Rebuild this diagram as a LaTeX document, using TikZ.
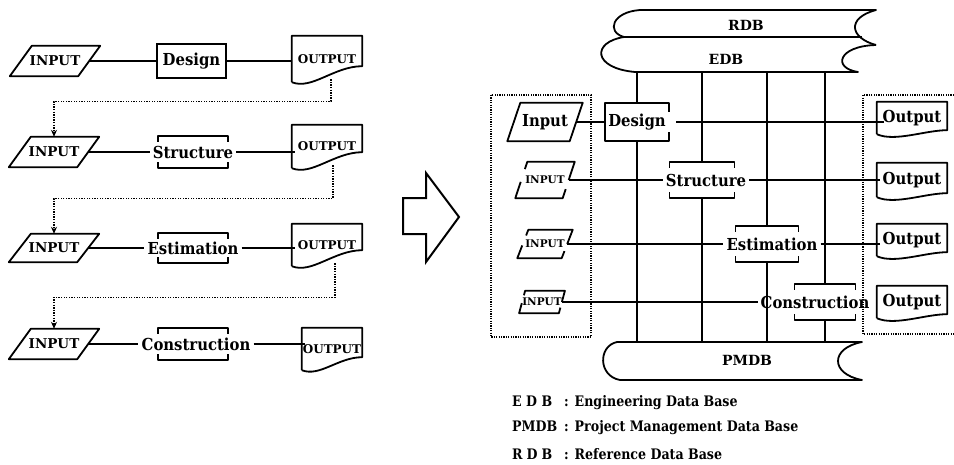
\documentclass[tikz,border=0pt]{standalone}
\usepackage{fontspec}
\setmainfont{DejaVu Serif}
\newfontfamily\labfont{DejaVu Serif}[FakeStretch=0.9]
\newfontfamily\legfont{DejaVu Serif}[FakeStretch=0.87]
\usetikzlibrary{calc,arrows.meta}

\tikzset{
  ln/.style={line width=1.8pt},
  shell/.style={line width=1.8pt, line join=round},
  rectbox/.style={draw, line width=1.8pt, inner sep=0pt},
  txt/.style={inner sep=0pt, font=\labfont\bfseries\fontsize{16.5}{18}\selectfont},
  capL/.style={inner sep=0pt, font=\bfseries\fontsize{13.5}{15}\selectfont},
  capO/.style={inner sep=0pt, font=\bfseries\fontsize{12}{14}\selectfont},
  capS/.style={inner sep=0pt, font=\bfseries\fontsize{10.5}{12}\selectfont},
  dbtxt/.style={inner sep=0pt, font=\bfseries\fontsize{14}{16}\selectfont},
  legend/.style={inner sep=0pt, anchor=base west, font=\legfont\bfseries\fontsize{14.5}{16}\selectfont},
  dotbox/.style={line width=1.3pt, dash pattern=on 1.2pt off 1.2pt},
  dotarrow/.style={line width=1.4pt, dash pattern=on 1.3pt off 1.3pt, -{Stealth[length=7pt,width=6pt]}},
}

% parallelogram round a node
\newcommand\paraIn[2]{%
  \draw[shell] ([xshift=-#2pt]#1.south west) -- ([xshift=#2pt]#1.north west) -- ([xshift=#2pt]#1.north east) -- ([xshift=-#2pt]#1.south east) -- cycle;}
% parallelogram with open sides
\newcommand\gapIn[2]{%
  \coordinate (#1TL) at ([xshift=#2pt]#1.north west);
  \coordinate (#1TR) at ([xshift=#2pt]#1.north east);
  \coordinate (#1BL) at ([xshift=-#2pt]#1.south west);
  \coordinate (#1BR) at ([xshift=-#2pt]#1.south east);
  \draw[shell] ($(#1TL)!0.2!(#1BL)$) -- (#1TL) -- (#1TR) -- ($(#1TR)!0.5!(#1BR)$);
  \draw[shell] ($(#1BL)!0.45!(#1TL)$) -- (#1BL) -- (#1BR) -- ($(#1BR)!0.25!(#1TR)$);}
% document shape: name, rise of right end, ctrl1 x, ctrl2 x, ctrl2 y
\newcommand\docS[5]{%
  \draw[shell] (#1.south west) -- (#1.north west) -- (#1.north east) -- ([yshift=#2pt]#1.south east) .. controls +(-#3,0) and +(#4,#5) .. (#1.south west);}
% brackets above and below: name, half width, x offset
\newcommand\brk[3]{%
  \draw[shell] ($(#1.north)+(#3-#2,6)$) -- ++(0,-6) -- ++(2*#2,0) -- ++(0,6);
  \draw[shell] ($(#1.south)+(#3-#2,-6)$) -- ++(0,6) -- ++(2*#2,0) -- ++(0,-6);}

\begin{document}
\begin{tikzpicture}[x=1pt,y=-1pt]
\fill[white] (0,0) rectangle (954,464);
\useasboundingbox (0,0) rectangle (954,464);

% ================= LEFT =================
% row 1
\node[capL, minimum width=68, minimum height=30] (in1) at (55,61) {INPUT};
\paraIn{in1}{11}
\node[txt, rectbox, minimum width=69, minimum height=34] (d1) at (191.5,61) {Design};
\node[capO, minimum width=70, minimum height=46] (o1) at (327,59) {OUTPUT};
\docS{o1}{16}{28}{20}{8}
\draw[ln] (in1.east) -- (in1.east -| d1.west);
\draw[ln] (d1.east) -- (d1.east -| o1.west);

% row 2
\node[capL, minimum width=68, minimum height=30] (in2) at (54,152) {INPUT};
\paraIn{in2}{11}
\node[txt, minimum height=32] (st1) at (193,152) {Structure};
\brk{st1}{35}{0}
\node[capO, minimum width=70, minimum height=43] (o2) at (327,146.5) {OUTPUT};
\docS{o2}{16}{28}{20}{8}
\draw[ln] (in2.east) -- ([xshift=-3pt]in2.east -| st1.west);
\draw[ln] ([xshift=3pt]st1.east) -- ([xshift=3pt]st1.east -| o2.west);

% row 3
\node[capL, minimum width=68, minimum height=28] (in3) at (54,248) {INPUT};
\paraIn{in3}{11}
\node[txt, minimum height=30] (es1) at (193,248) {Estimation};
\brk{es1}{35}{0}
\node[capO, minimum width=70, minimum height=42] (o3) at (327,245) {OUTPUT};
\docS{o3}{16}{28}{20}{8}
\draw[ln] (in3.east) -- ([xshift=-3pt]in3.east -| es1.west);
\draw[ln] ([xshift=3pt]es1.east) -- ([xshift=3pt]es1.east -| o3.west);

% row 4
\node[capL, minimum width=68, minimum height=30] (in4) at (54,344) {INPUT};
\paraIn{in4}{11}
\node[txt, minimum height=32] (co1) at (196,344) {Construction};
\brk{co1}{35}{-3}
\node[capO, minimum width=60, minimum height=42] (o4) at (332,349) {OUTPUT};
\docS{o4}{13}{24}{18}{7}
\draw[ln] (in4.east) -- ([xshift=-3pt]in4.east -| co1.west);
\draw[ln] ([xshift=3pt]co1.east) -- ([xshift=3pt]co1.east -| o4.west);

% dotted feedback arrows
\draw[dotarrow] ([xshift=4pt,yshift=3pt]o1.south) -- ++(0,22) -| (in2.north);
\draw[dotarrow] ([xshift=6pt,yshift=3pt]o2.south) -- ++(0,33) -| (in3.north);
\draw[dotarrow] ([xshift=8pt,yshift=3pt]o3.south) -- ++(0,34) -| (in4.north);

% ================= BIG ARROW =================
\draw[line width=2pt, line join=miter] (403,198) -- (426,198) -- (426,173) -- (459,217) -- (426,262) -- (426,234) -- (403,234) -- cycle;

% ================= RIGHT =================
% data base bands
\draw[shell] (624,37) .. controls (606,32) and (612,12) .. (640,10) -- (876,10) .. controls (846,18) and (850,38) .. (876,45);
\draw[shell] (624,37) -- (862,37);
\draw[shell] (624,37) .. controls (592,42) and (592,68) .. (635,72) -- (858,72) .. controls (832,68) and (838,46) .. (876,45);
\draw[shell] (617,342) -- (862,342) .. controls (830,348) and (830,374) .. (862,380) -- (620,380) .. controls (598,376) and (598,346) .. (617,342) -- cycle;
\node[dbtxt] (rdb) at (746,25) {RDB};
\node[dbtxt] (edb) at (726,59) {EDB};
\node[dbtxt] (pmdb) at (747,360) {PMDB};
\coordinate (edbB) at (0,72);
\coordinate (pmT) at (0,342);

% dotted frames
\draw[dotbox] (491,95) rectangle (591,337);
\draw[dotbox] (954,95) -- (863,95) -- (863,334) -- (954,334);

% row 1
\node[txt, minimum width=62, minimum height=38] (ri1) at (545,122) {Input};
\paraIn{ri1}{6.5}
\node[txt, minimum width=64, minimum height=38] (rd) at (637,122) {Design};
\draw[shell] ([yshift=-9pt]rd.north east) -- (rd.north east) -- (rd.north west) -- (rd.south west) -- (rd.south east) -- ([yshift=9pt]rd.south east);
\node[txt, minimum width=70, minimum height=32] (ro1) at (912,118) {Output};
\docS{ro1}{4}{22}{18}{8}

% row 2
\node[capS, minimum width=47, minimum height=36] (ri2) at (545,180) {INPUT};
\gapIn{ri2}{6}
\node[txt, minimum height=36] (st2) at (706,180) {Structure};
\brk{st2}{32.5}{-4}
\node[txt, minimum width=70, minimum height=34] (ro2) at (912,180) {Output};
\docS{ro2}{4}{22}{18}{8}

% row 3
\node[capS, minimum width=44, minimum height=28] (ri3) at (545,244) {INPUT};
\gapIn{ri3}{5.5}
\node[txt, minimum height=36] (es2) at (772,244) {Estimation};
\brk{es2}{31.5}{-5}
\node[txt, minimum width=70, minimum height=32] (ro3) at (912,240) {Output};
\docS{ro3}{4}{22}{18}{8}

% row 4
\node[capS, minimum width=37, minimum height=22] (ri4) at (542,302) {INPUT};
\gapIn{ri4}{3}
\node[txt, minimum height=36] (co2) at (815,302) {Construction};
\brk{co2}{30.5}{10}
\node[txt, minimum width=70, minimum height=32] (ro4) at (912,302) {Output};
\docS{ro4}{4}{22}{18}{8}

% horizontal connectors
\draw[ln] (ri1.east) -- (ri1.east -| rd.west);
\draw[ln] ([xshift=7pt]rd.east) -- ([xshift=7pt]rd.east -| ro1.west);
\draw[ln] (ri2.east) -- ([xshift=-3pt]ri2.east -| st2.west);
\draw[ln] ([xshift=3pt]st2.east) -- ([xshift=3pt]st2.east -| ro2.west);
\draw[ln] (ri3.east) -- ([xshift=-3pt]ri3.east -| es2.west);
\draw[ln] ([xshift=3pt]es2.east) -- ([xshift=3pt]es2.east -| ro3.west);
\draw[ln] (ri4.east) -- ([xshift=-3pt]ri4.east -| co2.west);

% vertical connectors between data bases and work steps
\coordinate (v1t) at (rd.north);
\coordinate (v1b) at (rd.south);
\coordinate (v2t) at ([xshift=-4pt]st2.north);
\coordinate (v2b) at ([xshift=-4pt]st2.south);
\coordinate (v3t) at ([xshift=-5pt]es2.north);
\coordinate (v3b) at ([xshift=-5pt]es2.south);
\coordinate (v4t) at ([xshift=10pt]co2.north);
\coordinate (v4b) at ([xshift=10pt]co2.south);
\foreach \k in {1,2,3,4}{
  \draw[ln] (v\k t |- edbB) -- (v\k t);
  \draw[ln] (v\k b) -- (v\k b |- pmT);
}

% legend
\node[legend] (lg1) at (512,406) {\makebox[52pt][l]{\makebox[40pt][s]{E D B}}: Engineering Data Base};
\node[legend] (lg2) at (512,431) {\makebox[52pt][l]{PMDB}: Project Management Data Base};
\node[legend] (lg3) at (512,459) {\makebox[52pt][l]{\makebox[40pt][s]{R D B}}: Reference Data Base};
\end{tikzpicture}
\end{document}
